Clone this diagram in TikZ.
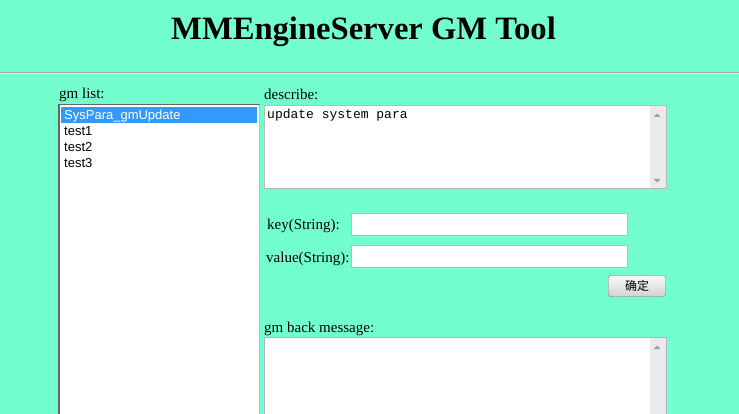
\documentclass[tikz,border=0pt]{standalone}
\usepackage{fontspec}
\setmainfont{Liberation Serif}
\setmonofont{Liberation Mono}
\newfontfamily\arialfont{Liberation Sans}
\newfontfamily\cjk{Noto Sans CJK SC}
\definecolor{mint}{RGB}{115,255,205}
\definecolor{selblue}{RGB}{51,153,255}
\definecolor{barbg}{RGB}{234,234,234}
\definecolor{rulegray}{RGB}{168,168,168}

\begin{document}
\begin{tikzpicture}
		[x=1pt,y=-1pt,
		 lbl/.style={anchor=base west,inner sep=0pt,font=\fontsize{15}{18}\selectfont},
		 item/.style={anchor=base west,inner sep=0pt,font=\arialfont\fontsize{13}{15}\selectfont},
		 field/.style={draw=gray!55,fill=white,line width=1pt},
		 tip/.style={fill=gray!75,draw=none}]
	\useasboundingbox[fill=mint] (0,0) rectangle (739,414);
	% header
	\node (title) [anchor=base,inner sep=0pt,font=\bfseries\fontsize{32.6}{36}\selectfont] at (363.5,40) {MMEngineServer GM Tool};
	\draw[rulegray,line width=1pt] (0,72.5) -- (739,72.5);
	\draw[gray!25,line width=1pt] (0,73.5) -- (739,73.5);
	% gm list
	\node (listlbl) [lbl] at (59,99) {gm list:};
	\fill[white] (59,104) rectangle (259,420);
	\draw[gray!50,line width=1pt] (259.5,104) -- (259.5,420);
	\draw[gray!80!black,line width=1.5pt] (59,420) -- (59,104.5) -- (260,104.5);
	\fill[selblue] (61,107) rectangle (257,123);
	\node (sel) [item,white] at (64,120) {SysPara\_gmUpdate};
	\node (t1) [item] at (64,136) {test1};
	\node (t2) [item] at (64,152) {test2};
	\node (t3) [item] at (64,168) {test3};
	% describe
	\node (desclbl) [lbl] at (264,100) {describe:};
	\draw[field] (264.5,105.5) rectangle (666.5,188.5);
	\fill[barbg] (650,106) rectangle (666,188);
	\fill[tip] (653.5,117) -- (660.5,117) -- (657,113.5) -- cycle;
	\fill[tip] (653.5,179) -- (660.5,179) -- (657,182.5) -- cycle;
	\node (desc) [anchor=base west,inner sep=0pt,font=\ttfamily\fontsize{13}{15}\selectfont] at (267,119) {update system para};
	% key / value
	\node (keylbl) [lbl] at (267,230) {key(String):};
	\draw[field] (351.5,213.5) rectangle (627.5,235.5);
	\node (vallbl) [lbl] at (266,262) {value(String):};
	\draw[field] (351.5,245.5) rectangle (627.5,267.5);
	\draw[gray!90!black,rounded corners=2.5pt,top color=gray!5,bottom color=gray!35] (608.5,275.5) rectangle (665.5,296.5);
	\node (ok) [inner sep=0pt,font=\cjk\fontsize{12}{14}\selectfont] at (637,285.5) {确定};
	% back message
	\node (backlbl) [lbl] at (264,332) {gm back message:};
	\draw[field,draw=blue!25!gray!50] (264.5,337.5) rectangle (666.5,420);
	\fill[barbg] (650,338) rectangle (666,420);
	\fill[tip] (653.5,349) -- (660.5,349) -- (657,345.5) -- cycle;
\end{tikzpicture}
\end{document}
